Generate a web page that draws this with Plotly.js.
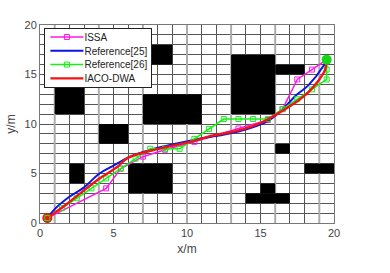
<!DOCTYPE html>
<html><head><meta charset="utf-8">
<script src="https://cdn.plot.ly/plotly-3.0.1.min.js"></script>
<style>html,body{margin:0;padding:0;background:#fff}</style></head>
<body><div id="chart" style="width:390px;height:273px"></div>
<script>
const issaX=[0.5,4.5,5.5,7,8.5,10.5,13.5,15.5,16.5,17.5,18.5,19.5];
const issaY=[0.5,3.5,5.5,6.7,7.4,8.2,9.55,10.4,11.5,14.5,15.5,16.5];
const ref25X=[0.5,1,2,3,4,5,6,7.5,10.5,13.5,15.5,16.5,17.5,18.25,19.3,19.5];
const ref25Y=[0.5,1.4,2.65,3.6,4.95,5.8,6.6,7.4,8.4,9.25,10.3,11.5,13,13.9,15.9,16.5];
const ref26X=[0.5,1.5,2.5,3.5,4.5,5.5,6.5,7.5,8.5,9.5,10.5,11.5,12.5,13.5,14.5,15.5,16.5,17.5,18.5,19.5,19.5,19.5];
const ref26Y=[0.5,1.5,2.5,3.5,4.5,5.5,6.5,7.5,7.5,7.5,8.5,9.5,10.5,10.5,10.5,10.5,11.5,12.5,13.5,14.5,15.5,16.5];
const iacoX=[0.5,1.8,4,5.2,6,7.5,10.5,11.5,13.5,15,16,17.5,18.25,19,19.4,19.5];
const iacoY=[0.5,1.9,4.45,5.6,6.6,7.3,8.3,8.75,9.35,10.1,10.9,12.3,13.2,14.5,15.5,16.5];
const startPoint=[0.5,0.5];
const endPoint=[19.5,16.5];
const obstacles=[[1,3,11,14],[4,6,8,10],[7,9,16,18],[7,11,10,13],[13,16,11,17],[16,18,15,16],[2,3,4,6],[6,9,3,6],[16,17,7,8],[18,20,5,6],[14,17,2,3],[15,16,3,4]];
const paleGridX=[1,4,7,10,13,16,19];
const tickLabels=[0,5,10,15,20];

const shapes=[];
paleGridX.forEach(v=>shapes.push({type:'line',layer:'between',xref:'x',yref:'y',x0:v,x1:v,y0:0,y1:20,line:{color:'#ababab',width:2}}));
obstacles.forEach(o=>shapes.push({type:'rect',layer:'between',xref:'x',yref:'y',x0:o[0],x1:o[1],y0:o[2],y1:o[3],fillcolor:'#000',line:{width:0}}));
const mk=c=>({symbol:'square-open',size:5,color:c,line:{color:c,width:1}});
const traces=[
 {x:issaX,y:issaY,name:'ISSA',mode:'lines+markers',line:{color:'#ff19e6',width:1.5},marker:mk('#ff19e6')},
 {x:ref25X,y:ref25Y,name:'Reference[25]',mode:'lines',line:{color:'#0a14e6',width:2,shape:'spline'}},
 {x:ref26X,y:ref26Y,name:'Reference[26]',mode:'lines+markers',line:{color:'#14f014',width:1.5},marker:mk('#14f014')},
 {x:iacoX,y:iacoY,name:'IACO-DWA',mode:'lines',line:{color:'#f01414',width:2.4,shape:'spline'}},
 {x:[startPoint[0]],y:[startPoint[1]],mode:'markers',showlegend:false,marker:{symbol:'circle',size:10,color:'#f01414'}},
 {x:[startPoint[0]],y:[startPoint[1]],mode:'markers',showlegend:false,marker:mk('#14f014')},
 {x:[endPoint[0]],y:[endPoint[1]],mode:'markers',showlegend:false,marker:{symbol:'circle',size:10,color:'#14d814'}}
];
const axis=t=>({range:[0,20],tickmode:'array',tickvals:tickLabels,ticktext:tickLabels.map(String),ticks:'',
 showgrid:true,gridcolor:'#555',gridwidth:1,minor:{dtick:1,showgrid:true,gridcolor:'#555',gridwidth:1,ticks:''},
 zeroline:false,showline:true,mirror:true,linecolor:'#777',linewidth:1,
 tickfont:{size:11,color:'#444'},title:{text:t,font:{size:12,color:'#444'},standoff:6}});
const layout={width:390,height:273,margin:{l:40,r:56,t:25,b:50},paper_bgcolor:'#fff',plot_bgcolor:'#fff',
 font:{family:'"Liberation Sans",Arial,sans-serif'},xaxis:axis('x/m'),yaxis:axis('y/m'),shapes,showlegend:true,
 legend:{x:0.015,y:0.985,xanchor:'left',yanchor:'top',bgcolor:'#fff',bordercolor:'#222',borderwidth:1,
 font:{size:10,color:'#222'},itemwidth:33,tracegroupgap:0}};
Plotly.newPlot('chart',traces,layout,{displayModeBar:false,staticPlot:true}).then(gd=>{
 // tighten the native legend to the reference's row pitch and box size
 const lg=gd.querySelector('.legend');
 lg.querySelectorAll('.traces').forEach((t,i)=>{
  t.setAttribute('transform','translate(1,'+(9+i*13.8)+')');
  t.querySelectorAll('.legendtext').forEach(e=>e.setAttribute('x','39'));
  t.querySelectorAll('.legendlines path, .legendsymbols path').forEach(e=>{});
 });
 const bg=lg.querySelector('.bg');
 bg.setAttribute('width','107');bg.setAttribute('height','59');
});
</script></body></html>
